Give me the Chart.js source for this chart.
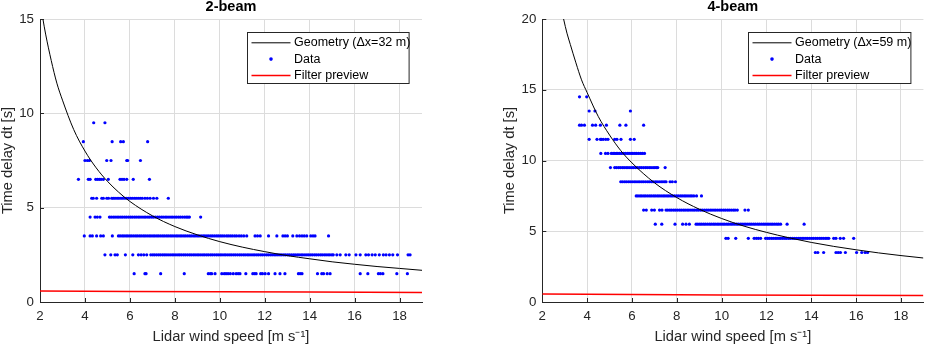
<!DOCTYPE html>
<html>
<head>
<meta charset="utf-8">
<script src="https://cdn.jsdelivr.net/npm/chart.js@4/dist/chart.umd.min.js"></script>
<style>
  body { margin: 0; background: #fff; }
  .panel { position: absolute; top: 0; height: 345px; }
  #p1 { left: 0; width: 430px; }
  #p2 { left: 470px; width: 455px; }
</style>
</head>
<body>
<div class="panel" id="p1"><canvas id="twoBeamChart"></canvas></div>
<div class="panel" id="p2"><canvas id="fourBeamChart"></canvas></div>
<script>
// time delay levels (s) and the wind speeds (m/s) of the points on each level
const twoBeamLevels = [1.5, 2.5, 3.5, 4.5, 5.5, 6.5, 7.5, 8.5, 9.5];
const twoBeamSpeeds = [
    [6.19, 6.67, 6.72, 7.37, 8.42, 9.49, 9.58, 9.64, 9.79, 10.09, 10.2, 10.28, 10.37, 10.47, 10.6, 10.73, 10.82, 10.9,
     11.16, 11.47, 11.55, 11.62, 11.82, 11.9, 12.02, 12.17, 12.46, 12.68, 12.9, 13.5, 13.58, 13.66, 14.35, 14.54, 14.62,
     14.78, 14.91, 16.25, 16.59, 17.06, 17.15, 17.26, 17.88, 18.35],
    [4.89, 5.15, 5.34, 5.44, 5.8, 6.13, 6.38, 6.5, 6.62, 6.75, 6.93, 7.02, 7.1, 7.19, 7.28, 7.36, 7.45, 7.53, 7.61, 7.7,
     7.79, 7.88, 7.96, 8.05, 8.14, 8.22, 8.3, 8.39, 8.47, 8.56, 8.65, 8.73, 8.82, 8.9, 8.99, 9.07, 9.16, 9.25, 9.33, 9.42,
     9.5, 9.59, 9.67, 9.76, 9.85, 9.93, 10.02, 10.1, 10.19, 10.27, 10.36, 10.45, 10.53, 10.62, 10.7, 10.79, 10.88, 10.96,
     11.05, 11.13, 11.22, 11.3, 11.39, 11.48, 11.56, 11.65, 11.73, 11.82, 11.9, 11.99, 12.08, 12.16, 12.25, 12.33, 12.42,
     12.5, 12.59, 12.68, 12.76, 12.85, 12.93, 13.02, 13.1, 13.19, 13.28, 13.36, 13.45, 13.53, 13.62, 13.7, 13.79, 13.88,
     13.96, 14.05, 14.13, 14.22, 14.3, 14.39, 14.48, 14.56, 14.65, 14.73, 14.82, 14.9, 14.99, 15.05, 15.21, 15.36, 15.61,
     15.76, 16.06, 16.25, 16.5, 16.62, 16.78, 16.92, 17.1, 17.28, 17.4, 17.55, 17.7, 17.91, 18.38, 18.47],
    [3.97, 4.23, 4.33, 4.52, 4.7, 4.82, 5.22, 5.49, 5.57, 5.66, 5.74, 5.83, 5.91, 6.0, 6.08, 6.17, 6.26, 6.34, 6.43,
     6.51, 6.6, 6.68, 6.77, 6.86, 6.94, 7.03, 7.11, 7.2, 7.28, 7.37, 7.46, 7.54, 7.63, 7.71, 7.8, 7.88, 7.97, 8.06, 8.14,
     8.23, 8.31, 8.4, 8.48, 8.57, 8.66, 8.74, 8.83, 8.91, 9.0, 9.08, 9.17, 9.26, 9.34, 9.43, 9.51, 9.6, 9.68, 9.77, 9.86,
     9.94, 10.03, 10.11, 10.2, 10.3, 10.38, 10.47, 10.56, 10.66, 10.75, 10.86, 10.96, 11.07, 11.2, 11.57, 11.68, 11.8,
     12.17, 12.54, 12.81, 12.91, 13.01, 13.25, 13.43, 13.55, 13.66, 13.76, 13.87, 14.05, 14.15, 14.24, 14.84],
    [4.23, 4.45, 4.55, 4.67, 5.09, 5.17, 5.26, 5.34, 5.43, 5.51, 5.6, 5.68, 5.77, 5.85, 5.94, 6.03, 6.11, 6.2, 6.28,
     6.37, 6.45, 6.54, 6.63, 6.71, 6.8, 6.88, 6.97, 7.05, 7.14, 7.23, 7.31, 7.4, 7.48, 7.57, 7.65, 7.74, 7.83, 7.91, 8.0,
     8.08, 8.17, 8.25, 8.34, 8.43, 8.51, 8.58, 8.65, 9.15],
    [4.3, 4.37, 4.52, 4.75, 4.82, 4.97, 5.05, 5.19, 5.26, 5.34, 5.43, 5.51, 5.6, 5.68, 5.77, 5.86, 5.94, 6.03, 6.11,
     6.2, 6.28, 6.37, 6.46, 6.55, 6.67, 6.78, 6.9, 7.05, 7.2, 7.71],
    [3.71, 4.15, 4.23, 4.48, 4.56, 4.64, 4.72, 4.82, 5.04, 5.56, 5.65, 5.74, 5.86, 6.15, 6.87],
    [4.0, 4.11, 4.2, 4.97, 5.16, 5.86, 5.9, 6.47],
    [3.93, 5.21, 5.59, 5.71, 6.79],
    [4.39, 4.89]
];

const fourBeamLevels = [3.5, 4.5, 5.5, 6.5, 7.5, 8.5, 9.5, 10.5, 11.5, 12.5, 13.5, 14.5];
const fourBeamSpeeds = [
    [14.18, 14.29, 14.55, 15.1, 15.2, 15.3, 15.52, 16.02, 16.25, 16.4, 16.51],
    [10.19, 10.29, 10.63, 11.19, 11.45, 11.55, 11.64, 11.74, 11.96, 12.05, 12.13, 12.22, 12.3, 12.39, 12.47, 12.56,
     12.64, 12.73, 12.82, 12.9, 12.99, 13.07, 13.16, 13.24, 13.33, 13.42, 13.5, 13.59, 13.67, 13.76, 13.84, 13.93, 14.02,
     14.1, 14.19, 14.27, 14.36, 14.44, 14.53, 14.62, 14.7, 14.78, 15.0, 15.1, 15.29, 15.44, 15.89],
    [7.04, 7.33, 7.92, 8.26, 8.41, 8.56, 8.86, 8.94, 9.03, 9.11, 9.2, 9.28, 9.37, 9.46, 9.54, 9.63, 9.71, 9.8, 9.88,
     9.97, 10.06, 10.14, 10.23, 10.31, 10.4, 10.48, 10.57, 10.66, 10.74, 10.83, 10.91, 11.0, 11.08, 11.17, 11.26, 11.34,
     11.43, 11.51, 11.6, 11.68, 11.77, 11.86, 11.94, 12.03, 12.11, 12.2, 12.28, 12.37, 12.46, 12.54, 12.63, 12.92, 13.68],
    [6.52, 6.64, 6.88, 7.0, 7.23, 7.34, 7.52, 7.6, 7.69, 7.77, 7.86, 7.94, 8.03, 8.12, 8.2, 8.29, 8.37, 8.46, 8.54,
     8.63, 8.72, 8.8, 8.89, 8.97, 9.06, 9.14, 9.23, 9.32, 9.4, 9.49, 9.57, 9.66, 9.74, 9.83, 9.92, 10.0, 10.09, 10.17,
     10.26, 10.34, 10.43, 10.52, 10.6, 10.7, 11.04, 11.19],
    [6.19, 6.27, 6.36, 6.44, 6.53, 6.61, 6.7, 6.79, 6.87, 6.96, 7.04, 7.13, 7.21, 7.3, 7.39, 7.47, 7.56, 7.64, 7.73,
     7.81, 7.9, 7.99, 8.07, 8.16, 8.24, 8.33, 8.41, 8.5, 8.59, 8.67, 8.76, 8.88, 9.1],
    [5.5, 5.58, 5.67, 5.75, 5.84, 5.92, 6.01, 6.1, 6.18, 6.27, 6.35, 6.44, 6.52, 6.61, 6.7, 6.78, 6.87, 6.95, 7.04,
     7.12, 7.21, 7.3, 7.38, 7.46, 7.52, 7.7, 7.8, 7.94],
    [5.04, 5.23, 5.31, 5.4, 5.48, 5.57, 5.65, 5.74, 5.82, 5.91, 6.0, 6.08, 6.17, 6.25, 6.34, 6.42, 6.51, 6.6, 6.68,
     6.77, 6.85, 6.94, 7.02, 7.09, 7.15, 7.48],
    [4.61, 4.82, 4.93, 5.08, 5.16, 5.23, 5.3, 5.37, 5.45, 5.53, 5.62, 5.7, 5.79, 5.87, 5.96, 6.04, 6.13, 6.21, 6.3,
     6.39, 6.47, 6.56],
    [4.09, 4.44, 4.59, 4.64, 4.72, 4.83, 4.93, 5.23, 5.33, 5.51, 5.93, 6.1],
    [3.66, 3.75, 3.88, 4.24, 4.38, 4.59, 4.86, 5.46, 5.73, 6.52],
    [4.09, 4.35, 5.93],
    [3.66, 3.98]
];

// geometry curve (dt = dx / U)
const twoBeamGeomX = [2, 2.13, 2.25, 2.5, 2.75, 3, 3.5, 4, 4.5, 5, 5.5, 6, 7, 8, 9, 10, 11, 12, 13, 14, 15, 16, 17, 18, 19];
const twoBeamGeomY = [16, 15.0, 14.2, 12.8, 11.6, 10.7, 9.14, 8.0, 7.11, 6.4, 5.82, 5.33, 4.57, 4.0, 3.56, 3.2, 2.91, 2.67, 2.46, 2.29, 2.13, 2.0, 1.88, 1.78, 1.68];
const fourBeamGeomX = [2.8, 2.95, 3.1, 3.25, 3.5, 3.75, 4, 4.5, 5, 5.5, 6, 7, 8, 9, 10, 11, 12, 13, 14, 15, 16, 17, 18, 19];
const fourBeamGeomY = [21.1, 20.0, 19.0, 18.2, 16.9, 15.7, 14.8, 13.1, 11.8, 10.7, 9.83, 8.43, 7.38, 6.56, 5.9, 5.36, 4.92, 4.54, 4.21, 3.93, 3.69, 3.47, 3.28, 3.11];

// filter preview line
const filterX = [2, 6, 10, 14, 19];
const twoBeamFilterY = [0.58, 0.56, 0.54, 0.53, 0.51];
const fourBeamFilterY = [0.57, 0.53, 0.5, 0.48, 0.46];

const FONT = '"Liberation Sans", Arial, Helvetica, sans-serif';
const AXIS_COLOR = '#262626';

function toPoints(xs, ys) {
    return xs.map((x, i) => ({ x: x, y: ys[i] }));
}

function levelPoints(levels, speeds) {
    const pts = [];
    levels.forEach((dt, i) => {
        speeds[i].forEach(u => pts.push({ x: u, y: dt }));
    });
    return pts;
}

// MATLAB-like boxed legend in the top right corner of the axes
const boxLegend = {
    id: 'boxLegend',
    afterDraw(chart, args, opts) {
        const { ctx, chartArea } = chart;
        const w = opts.width, h = 51;
        const x0 = Math.round(chartArea.right - opts.right - w) + 0.5;
        const y0 = Math.round(chartArea.top + 12.7) + 0.5;
        ctx.save();
        ctx.fillStyle = '#fff';
        ctx.fillRect(x0, y0, w, h);
        ctx.strokeStyle = AXIS_COLOR;
        ctx.lineWidth = 1;
        ctx.strokeRect(x0, y0, w, h);
        ctx.font = '12.5px ' + FONT;
        ctx.textBaseline = 'middle';
        ctx.textAlign = 'left';
        chart.data.datasets.forEach((ds, i) => {
            const cy = y0 + 10.3 + i * 16.3;
            if (ds.showLine) {
                ctx.strokeStyle = ds.borderColor;
                ctx.lineWidth = ds.borderWidth;
                ctx.beginPath();
                ctx.moveTo(x0 + 4, cy);
                ctx.lineTo(x0 + 43, cy);
                ctx.stroke();
            } else {
                ctx.fillStyle = ds.backgroundColor;
                ctx.beginPath();
                ctx.arc(x0 + 23.5, cy, 1.8, 0, Math.PI * 2);
                ctx.fill();
            }
            ctx.fillStyle = '#000';
            ctx.fillText(ds.label, x0 + 46.5, cy);
        });
        ctx.restore();
    }
};

// bold title centred over the plot area
const axesTitle = {
    id: 'axesTitle',
    afterDraw(chart, args, opts) {
        const { ctx, chartArea } = chart;
        ctx.save();
        ctx.font = 'bold 14.5px ' + FONT;
        ctx.fillStyle = '#000';
        ctx.textAlign = 'center';
        ctx.textBaseline = 'middle';
        ctx.fillText(opts.text, (chartArea.left + chartArea.right) / 2, 7);
        ctx.restore();
    }
};

// small inward tick marks like MATLAB axes
const innerTicks = {
    id: 'innerTicks',
    afterDatasetsDraw(chart) {
        const { ctx, chartArea, scales } = chart;
        ctx.save();
        ctx.strokeStyle = AXIS_COLOR;
        ctx.lineWidth = 1;
        ctx.beginPath();
        scales.x.ticks.forEach(t => {
            const px = Math.round(scales.x.getPixelForValue(t.value)) + 0.5;
            ctx.moveTo(px, chartArea.bottom);
            ctx.lineTo(px, chartArea.bottom - 4);
        });
        scales.y.ticks.forEach(t => {
            const py = Math.round(scales.y.getPixelForValue(t.value)) + 0.5;
            ctx.moveTo(chartArea.left, py);
            ctx.lineTo(chartArea.left + 4, py);
        });
        ctx.stroke();
        ctx.restore();
    }
};

function createChart(canvasId, cfg) {
    const ctx = document.getElementById(canvasId).getContext('2d');
    return new Chart(ctx, {
        type: 'scatter',
        data: {
            datasets: [{
                label: cfg.geomLabel,
                data: toPoints(cfg.geomX, cfg.geomY),
                showLine: true,
                borderColor: '#000000',
                borderWidth: 1,
                pointRadius: 0,
                cubicInterpolationMode: 'monotone'
            }, {
                label: 'Data',
                data: levelPoints(cfg.levels, cfg.speeds),
                showLine: false,
                backgroundColor: '#0000ff',
                borderWidth: 0,
                pointRadius: 1.6,
                pointHoverRadius: 1.6
            }, {
                label: 'Filter preview',
                data: toPoints(filterX, cfg.filterY),
                showLine: true,
                borderColor: '#ff0000',
                borderWidth: 1.5,
                pointRadius: 0
            }]
        },
        options: {
            responsive: true,
            maintainAspectRatio: false,
            animation: false,
            events: [],
            layout: { padding: { top: 19, left: cfg.padLeft, right: cfg.padRight, bottom: 0 } },
            plugins: {
                legend: { display: false },
                tooltip: { enabled: false },
                boxLegend: { width: cfg.legendWidth, right: cfg.legendRight },
                axesTitle: { text: cfg.title }
            },
            scales: {
                x: {
                    type: 'linear',
                    min: 2,
                    max: 19,
                    ticks: {
                        stepSize: 2,
                        includeBounds: false,
                        padding: 6,
                        color: AXIS_COLOR,
                        font: { family: FONT, size: 13.3 }
                    },
                    grid: { color: '#dcdcdc', drawTicks: false },
                    border: { color: AXIS_COLOR, width: 1 },
                    title: {
                        display: true,
                        text: 'Lidar wind speed [m s⁻¹]',
                        color: AXIS_COLOR,
                        padding: 0,
                        font: { family: FONT, size: 14.7, lineHeight: 1.1 }
                    },
                    afterFit: scale => { scale.height = 43; }
                },
                y: {
                    min: 0,
                    max: cfg.yMax,
                    ticks: {
                        stepSize: 5,
                        padding: 6,
                        color: AXIS_COLOR,
                        font: { family: FONT, size: 13.3 }
                    },
                    grid: { color: '#dcdcdc', drawTicks: false },
                    border: { color: AXIS_COLOR, width: 1 },
                    title: {
                        display: true,
                        text: 'Time delay dt [s]',
                        color: AXIS_COLOR,
                        padding: 0,
                        font: { family: FONT, size: 14.7, lineHeight: 1.1 }
                    },
                    afterFit: scale => { scale.width = cfg.yWidth; }
                }
            }
        },
        plugins: [innerTicks, boxLegend, axesTitle]
    });
}

createChart('twoBeamChart', {
    title: '2-beam',
    geomLabel: 'Geometry (Δx=32 m)',
    geomX: twoBeamGeomX,
    geomY: twoBeamGeomY,
    levels: twoBeamLevels,
    speeds: twoBeamSpeeds,
    filterY: twoBeamFilterY,
    yMax: 15,
    padLeft: 0,
    padRight: 8,
    yWidth: 40,
    legendWidth: 161.6,
    legendRight: 13.5
});

createChart('fourBeamChart', {
    title: '4-beam',
    geomLabel: 'Geometry (Δx=59 m)',
    geomX: fourBeamGeomX,
    geomY: fourBeamGeomY,
    levels: fourBeamLevels,
    speeds: fourBeamSpeeds,
    filterY: fourBeamFilterY,
    yMax: 20,
    padLeft: 32,
    padRight: 1,
    yWidth: 40.3,
    legendWidth: 162.4,
    legendRight: 12.6
});
</script>
</body>
</html>
